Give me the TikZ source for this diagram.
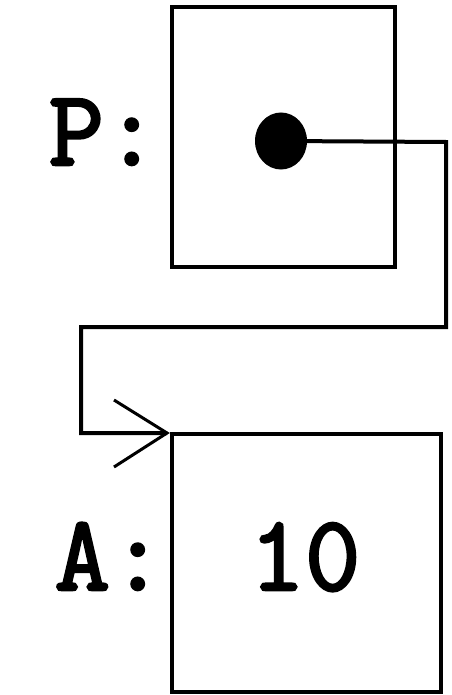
\documentclass[tikz,border=0pt]{standalone}
\usepackage{fontspec}
\newfontfamily\courb[FakeBold=2.5]{Latin Modern Mono}
\usetikzlibrary{shapes.geometric}
\begin{document}
\begin{tikzpicture}[x=1bp,y=-1bp,
  cell/.style={draw=black, line width=4bp, inner sep=0pt},
  lbl/.style={inner sep=0pt, anchor=base, font=\courb\fontsize{108}{108}\selectfont},
  wire/.style={draw=black, line width=4bp, miter limit=10},
  barb/.style={draw=black, line width=3bp}]
\useasboundingbox[fill=white] (0,0) rectangle (452,695);
\node[cell, minimum width=223bp, minimum height=260bp] (boxP) at (283.5,137) {};
\node[cell, minimum width=269bp, minimum height=258bp] (boxA) at (306.5,563) {};
\node[ellipse, fill=black, inner sep=0pt, minimum width=52bp, minimum height=57bp] (dot) at (281,141) {};
\node[lbl] (lP) at (104,165) {P:};
\node[lbl] (lA) at (110,590) {A:};
\node[lbl] (v) at (305,590) {10};
\coordinate (c1) at (446,142);
\coordinate (c2) at (446,327);
\coordinate (c3) at (81,327);
\coordinate (c4) at (81,433);
\coordinate (tip) at (167,433);
\coordinate (b1) at (114,400);
\coordinate (b2) at (114,467);
\draw[wire] (dot.center) -- (c1) -- (c2) -- (c3) -- (c4) -- (tip);
\draw[barb] (b1) -- (tip) -- (b2);
\end{tikzpicture}
\end{document}
